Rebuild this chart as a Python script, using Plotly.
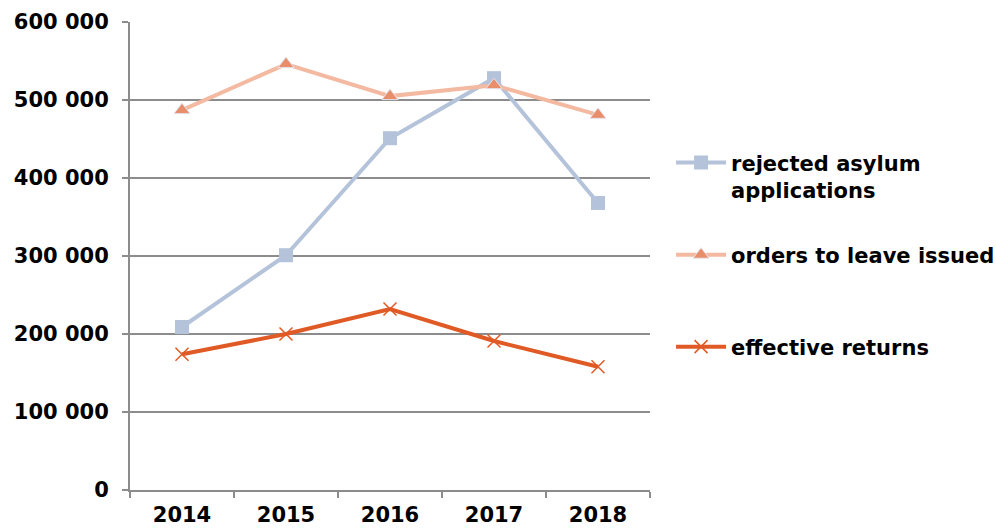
import plotly.graph_objects as go

years = ["2014", "2015", "2016", "2017", "2018"]
rejected = [209000, 301000, 451000, 528000, 368000]
orders = [487000, 546000, 505000, 519000, 481000]
returns = [174000, 200000, 232000, 191000, 158000]

y_ticks = [0, 100000, 200000, 300000, 400000, 500000, 600000]
y_labels = ["0", "100 000", "200 000", "300 000", "400 000", "500 000", "600 000"]

FONT = "DejaVu Sans"
GRAY = "#8c8c8c"

fig = go.Figure()
fig.add_trace(go.Scatter(
    x=years, y=rejected, name="rejected asylum<br>applications", mode="lines+markers",
    legend="legend",
    line=dict(color="#b4c3da", width=4),
    marker=dict(symbol="square", size=14, color="#b4c3da", line=dict(width=0)),
))
fig.add_trace(go.Scatter(
    x=years, y=orders, name="orders to leave issued", mode="lines+markers",
    legend="legend2",
    line=dict(color="#f3b9a1", width=4),
    marker=dict(symbol="triangle-up", size=14, color="#e98e6b", line=dict(width=1, color="#e4e4ee")),
))
fig.add_trace(go.Scatter(
    x=years, y=returns, name="effective returns", mode="lines+markers",
    legend="legend3",
    line=dict(color="#e05a26", width=4),
    marker=dict(symbol="x-thin", size=13, color="#e05a26", line=dict(width=1.5, color="#e05a26")),
))

leg_common = dict(
    xanchor="left", valign="top", itemwidth=50,
    font=dict(family=FONT, size=21, color="black", weight="bold"),
    bgcolor="rgba(0,0,0,0)",
)

fig.update_layout(
    width=996, height=528,
    margin=dict(l=130, r=346, t=22, b=38, autoexpand=False),
    paper_bgcolor="white", plot_bgcolor="white",
    font=dict(family=FONT, size=21, color="black", weight="bold"),
    showlegend=True,
    legend=dict(x=1.0405, y=0.743, yanchor="top", **leg_common),
    legend2=dict(x=1.0405, y=0.502, yanchor="middle", **leg_common),
    legend3=dict(x=1.0405, y=0.3056, yanchor="middle", **leg_common),
)
fig.update_xaxes(
    type="category", range=[-0.5, 4.5],
    tickson="boundaries", ticks="outside", ticklen=6, tickcolor=GRAY, tickwidth=1.5,
    showline=True, linecolor=GRAY, linewidth=2,
    showgrid=False, zeroline=False, ticklabelstandoff=5,
    tickfont=dict(family=FONT, size=21, color="black", weight="bold"),
)
fig.update_yaxes(
    range=[0, 600000], tickvals=y_ticks, ticktext=y_labels,
    ticks="outside", ticklen=6, tickcolor=GRAY, tickwidth=1.5,
    showline=True, linecolor=GRAY, linewidth=2,
    showgrid=True, gridcolor=GRAY, gridwidth=1.5,
    zeroline=False, ticklabelstandoff=9,
    tickfont=dict(family=FONT, size=21, color="black", weight="bold"),
)

fig.write_html(
    "out.html",
    config={"displayModeBar": False},
    post_script="document.body.style.margin='0';document.body.style.overflow='hidden';",
)
